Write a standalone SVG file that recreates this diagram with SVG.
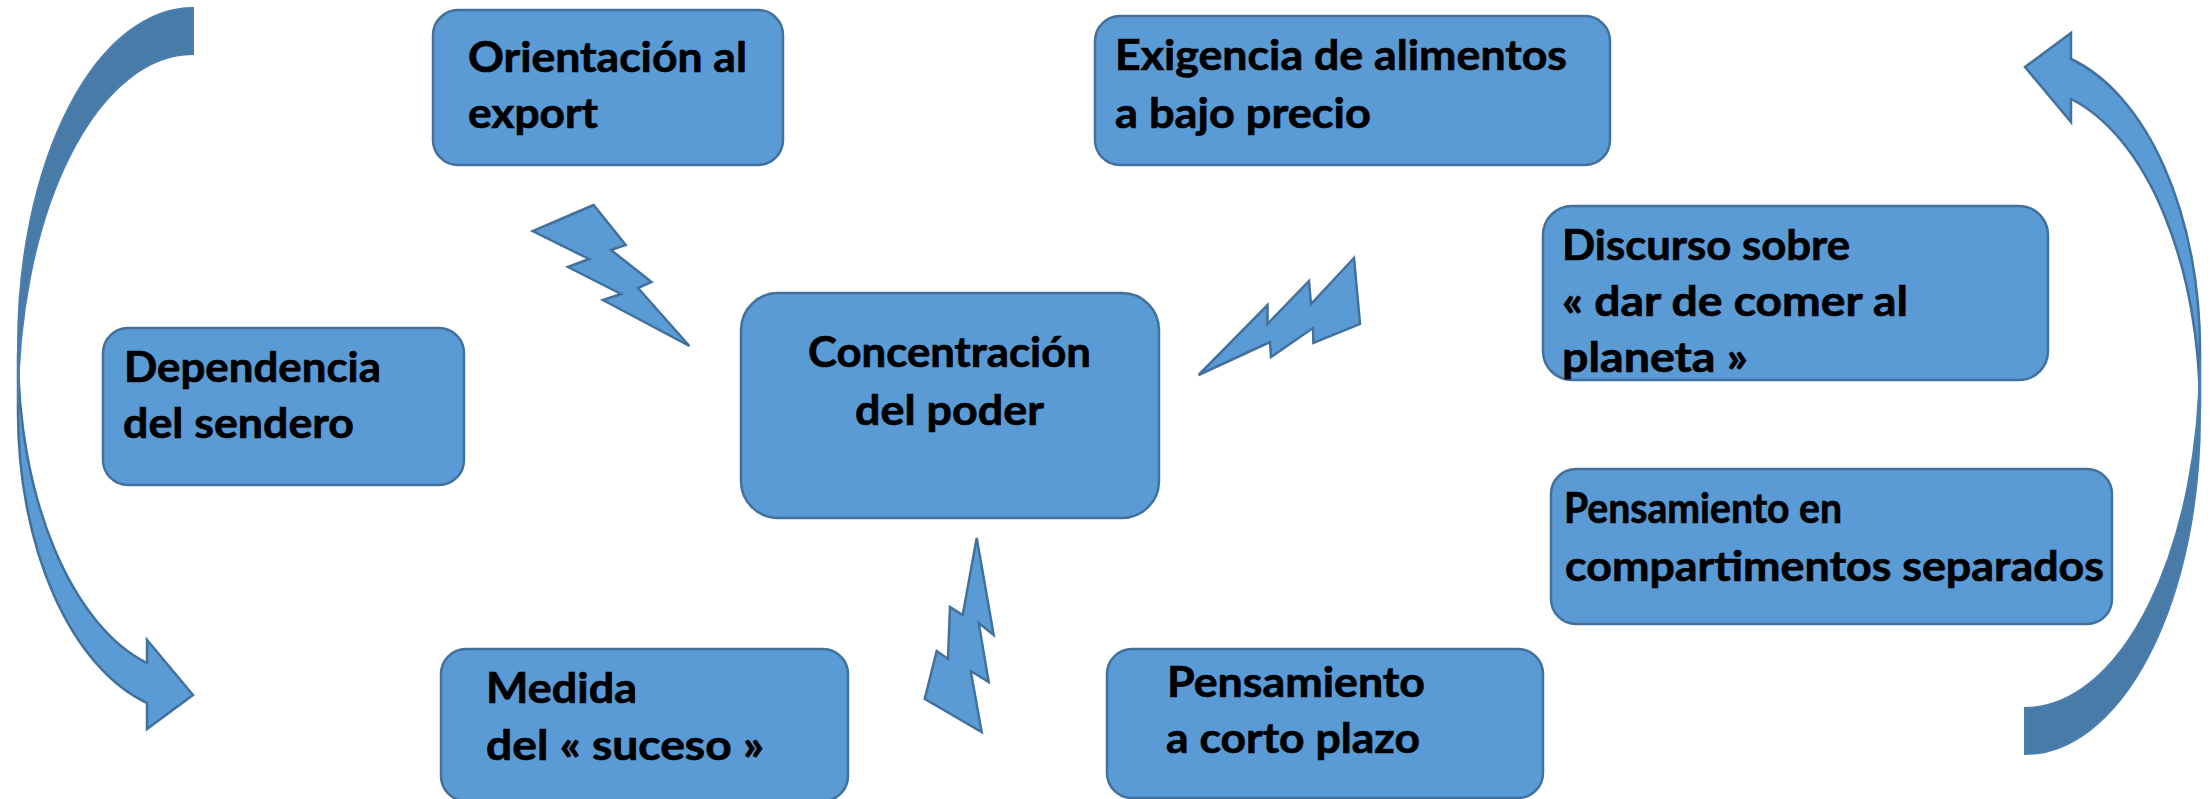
<svg xmlns="http://www.w3.org/2000/svg" xmlns:xlink="http://www.w3.org/1999/xlink" width="2211" height="799" viewBox="0 0 2211 799">
<style>
.box{fill:#5B9BD5;stroke:#41719C;stroke-width:2.5}
.bolt{fill:#5B9BD5;stroke:#41719C;stroke-width:2.5;stroke-linejoin:miter}
.dark{fill:#497BA9;stroke:#4A7EAE;stroke-width:2}
.t{font-family:"Lato","Open Sans","Liberation Sans",sans-serif;font-weight:700;font-size:42px;fill:#000;stroke:#000;stroke-width:.7}
</style>
<defs>
<g id="curve">
<path class="bolt" d="M18 412 A175 301 0 0 0 147 703 L147 729 L193 695 L147 640 L147 663 A175 322 0 0 1 18 353 Z"/>
<path class="dark" d="M193 8 A175 337 0 0 0 18 345 L18 405 A175 351 0 0 1 193 54 Z"/>
</g>
</defs>
<rect width="2211" height="799" fill="#fff"/>
<g id="connectors">
<use id="arrow-left" href="#curve" xlink:href="#curve"/>
<use id="arrow-right" href="#curve" xlink:href="#curve" transform="translate(2218 762) rotate(180)"/>
<polygon id="bolt-1" class="bolt" points="593.6,205 532.7,231 589,259 568,267 621,294 603,300 689.4,346 638,288 651.5,282 611,250 625.7,245"/>
<polygon id="bolt-2" class="bolt" points="1354,258 1311,304 1309,281 1267.5,324 1267.5,305 1198.6,375 1270,342 1271,357 1313,328 1313.4,343 1360,324"/>
<polygon id="bolt-3" class="bolt" points="976.7,538 962.7,615 950,607 948,659 936.7,651 924.7,699 981.7,732 970.7,671 988.7,682 978.7,623 993.7,635"/>
</g>
<g id="node-orientacion"><rect class="box" x="433" y="10" width="350" height="155" rx="25"/>
<text class="t" x="468" y="72" textLength="279" lengthAdjust="spacingAndGlyphs">Orientación al</text>
<text class="t" x="468" y="128" textLength="130" lengthAdjust="spacingAndGlyphs">export</text></g>
<g id="node-exigencia"><rect class="box" x="1095" y="16" width="515" height="149" rx="25"/>
<text class="t" x="1115" y="70" textLength="452" lengthAdjust="spacingAndGlyphs">Exigencia de alimentos</text>
<text class="t" x="1115" y="128" textLength="256" lengthAdjust="spacingAndGlyphs">a bajo precio</text></g>
<g id="node-discurso"><rect class="box" x="1543" y="206" width="505" height="174" rx="29"/>
<text class="t" x="1562" y="260" textLength="288" lengthAdjust="spacingAndGlyphs">Discurso sobre</text>
<text class="t" x="1562" y="316" textLength="346" lengthAdjust="spacingAndGlyphs">« dar de comer al</text>
<text class="t" x="1562" y="372" textLength="186" lengthAdjust="spacingAndGlyphs">planeta »</text></g>
<g id="node-compartimentos"><rect class="box" x="1551" y="469" width="561" height="155" rx="25"/>
<text class="t" x="1564" y="523" textLength="278" lengthAdjust="spacingAndGlyphs">Pensamiento en</text>
<text class="t" x="1565" y="581" textLength="539" lengthAdjust="spacingAndGlyphs">compartimentos separados</text></g>
<g id="node-concentracion"><rect class="box" x="741" y="293" width="418" height="225" rx="37"/>
<text class="t" x="808" y="367" textLength="283" lengthAdjust="spacingAndGlyphs">Concentración</text>
<text class="t" x="855" y="425" textLength="189" lengthAdjust="spacingAndGlyphs">del poder</text></g>
<g id="node-dependencia"><rect class="box" x="103" y="328" width="361" height="157" rx="25"/>
<text class="t" x="124" y="382" textLength="257" lengthAdjust="spacingAndGlyphs">Dependencia</text>
<text class="t" x="123" y="438" textLength="231" lengthAdjust="spacingAndGlyphs">del sendero</text></g>
<g id="node-medida"><rect class="box" x="441" y="649" width="407" height="152" rx="25"/>
<text class="t" x="486" y="703" textLength="151" lengthAdjust="spacingAndGlyphs">Medida</text>
<text class="t" x="486" y="760" textLength="278" lengthAdjust="spacingAndGlyphs">del « suceso »</text></g>
<g id="node-corto"><rect class="box" x="1107" y="649" width="436" height="149" rx="25"/>
<text class="t" x="1167" y="697" textLength="258" lengthAdjust="spacingAndGlyphs">Pensamiento</text>
<text class="t" x="1166" y="753" textLength="254" lengthAdjust="spacingAndGlyphs">a corto plazo</text></g>
</svg>
